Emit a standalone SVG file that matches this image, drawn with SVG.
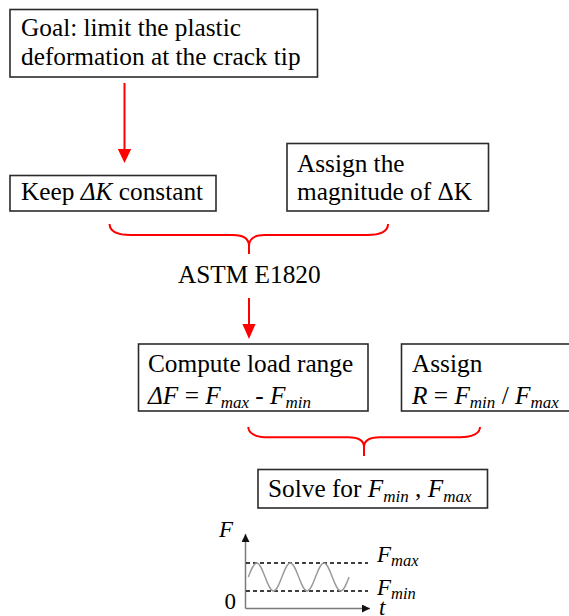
<svg xmlns="http://www.w3.org/2000/svg" width="569" height="616" viewBox="0 0 569 616" font-family="Liberation Serif, Times New Roman, serif">
  <style>
    .box { fill: #ffffff; stroke: #2b2b2b; stroke-width: 1.6; }
    .txt { font-size: 25.3px; fill: #000; }
    .it { font-style: italic; }
    .sub { font-size: 17px; font-style: italic; }
    .red { fill: none; stroke: #ff0000; stroke-width: 2; }
    .axis { fill: none; stroke: #7a7a7a; stroke-width: 1.5; }
    .dash { fill: none; stroke: #000; stroke-width: 1.3; stroke-dasharray: 4 3; }
    .wave { fill: none; stroke: #9a9a9a; stroke-width: 1.4; }
    .glbl { font-size: 23px; fill: #000; }
    .gsub { font-size: 16.5px; font-style: italic; }
  </style>
  <defs>
    <marker id="axHead" markerUnits="userSpaceOnUse" markerWidth="8" markerHeight="8" refX="8" refY="4" orient="auto" viewBox="0 0 8 8">
      <path d="M0,0 L8,4 L0,8 Z" fill="#111"/>
    </marker>
  </defs>

  <rect width="569" height="616" fill="#ffffff"/>

  <!-- connectors: arrows and braces -->
  <g id="connectors">
    <line class="red" x1="124.5" y1="83" x2="124.5" y2="149"/>
    <path d="M117.8,149 L131.2,149 L124.5,163 Z" fill="#ff0000"/>
    <line class="red" x1="249" y1="298" x2="249" y2="325"/>
    <path d="M242.4,324 L255.6,324 L249,339 Z" fill="#ff0000"/>
    <path class="red" d="M109.6,224 C109.6,231 117,235 131,235 L233,235 C244,235 249,239 249,246 L249,254 M249,246 C249,239 254,235 265,235 L367,235 C381,235 388,231 388,224"/>
    <path class="red" d="M248.3,427 C248.3,433 255,437.3 268,437.3 L348,437.3 C359,437.3 364,441 364,447 L364,456 M364,447 C364,441 369,437.3 380,437.3 L460,437.3 C473,437.3 480,433 480,427"/>
  </g>

  <g id="goal">
    <rect class="box" x="10" y="9.5" width="307.5" height="67.5"/>
    <text class="txt" x="21" y="36">Goal: limit the plastic</text>
    <text class="txt" x="21" y="64.5">deformation at the crack tip</text>
  </g>

  <g id="keep-dk">
    <rect class="box" x="10" y="175.5" width="206" height="35.5"/>
    <text class="txt" x="21" y="200">Keep <tspan class="it">ΔK</tspan> constant</text>
  </g>

  <g id="assign-dk">
    <rect class="box" x="287" y="143.5" width="201.5" height="67.5"/>
    <text class="txt" x="297" y="171.5">Assign the</text>
    <text class="txt" x="297" y="199.5">magnitude of ΔK</text>
  </g>

  <g id="astm">
    <text class="txt" x="178" y="283">ASTM E1820</text>
  </g>

  <g id="compute-range">
    <rect class="box" x="138.5" y="344" width="229.5" height="67"/>
    <text class="txt" x="148" y="371.5">Compute load range</text>
    <text class="txt" x="148" y="403.5"><tspan class="it">ΔF</tspan> = <tspan class="it">F</tspan><tspan class="sub" dy="4">max</tspan><tspan dy="-4"> - </tspan><tspan class="it">F</tspan><tspan class="sub" dy="4">min</tspan></text>
  </g>

  <g id="assign-r">
    <rect class="box" x="401.5" y="344" width="180" height="67"/>
    <text class="txt" x="412" y="371.5">Assign</text>
    <text class="txt" x="412" y="403.5"><tspan class="it">R</tspan> = <tspan class="it">F</tspan><tspan class="sub" dy="4">min</tspan><tspan dy="-4"> / </tspan><tspan class="it">F</tspan><tspan class="sub" dy="4">max</tspan></text>
  </g>

  <g id="solve">
    <rect class="box" x="258" y="469.5" width="229.5" height="38.5"/>
    <text class="txt" x="268" y="496.5">Solve for <tspan class="it">F</tspan><tspan class="sub" dy="5">min</tspan><tspan dy="-5"> , </tspan><tspan class="it">F</tspan><tspan class="sub" dy="5">max</tspan></text>
  </g>

  <g id="load-plot">
    <line class="axis" x1="245.5" y1="608.5" x2="245.5" y2="534" marker-end="url(#axHead)"/>
    <line class="axis" x1="245.5" y1="608.5" x2="370" y2="608.5" marker-end="url(#axHead)"/>
    <line class="dash" x1="246" y1="563" x2="368" y2="563"/>
    <line class="dash" x1="246" y1="591" x2="368" y2="591"/>
    <path class="wave" d="M248.3,577
      c2.74,-7.18 5.36,-14 8.4,-14 c3.04,0 5.66,6.82 8.4,14 c2.74,7.18 5.36,14 8.4,14 c3.04,0 5.66,-6.82 8.4,-14
      c2.74,-7.18 5.36,-14 8.4,-14 c3.04,0 5.66,6.82 8.4,14 c2.74,7.18 5.36,14 8.4,14 c3.04,0 5.66,-6.82 8.4,-14
      c2.74,-7.18 5.36,-14 8.4,-14 c3.04,0 5.66,6.82 8.4,14 c2.74,7.18 5.36,14 8.4,14 c3.04,0 5.66,-6.82 8.4,-14"/>
    <text class="glbl it" x="219" y="537">F</text>
    <text class="glbl" x="224.5" y="609">0</text>
    <text class="glbl" x="377" y="562"><tspan class="it">F</tspan><tspan class="gsub" dy="4">max</tspan></text>
    <text class="glbl" x="377" y="595"><tspan class="it">F</tspan><tspan class="gsub" dy="4">min</tspan></text>
    <text class="glbl it" x="379" y="615">t</text>
  </g>
</svg>
